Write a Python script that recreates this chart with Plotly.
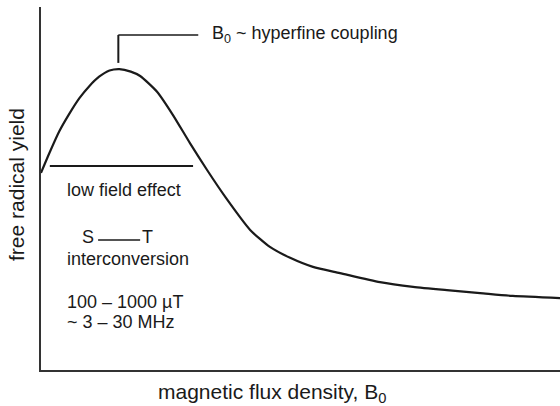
import plotly.graph_objects as go

# curva de rendimiento (unidades arbitrarias, 0-100)
campo = [0, 1.6, 3.5, 5.5, 7.4, 9.3, 11.2, 13.2, 15.1, 17.3, 19.1, 22.4, 25.4,
         28.7, 32.0, 35.5, 40.3, 44.1, 48.0, 52.4, 57.6, 65.3, 71.7, 78.2,
         84.6, 90.9, 100]
rendimiento = [54.3, 59.7, 65.7, 70.7, 74.9, 78.2, 80.8, 82.5, 82.9, 82.2, 81.0,
               76.6, 70.3, 62.5, 55.1, 47.7, 38.6, 33.9, 30.9, 28.4, 26.7, 24.2,
               22.9, 22.0, 21.2, 20.4, 19.8]

pico_x = 14.9
etiqueta_pico = 'B<sub>0</sub> ~ hyperfine coupling'
etiquetas_izq = ['low field effect', 'interconversion', '100 – 1000 µT', '~ 3 – 30 MHz']
etiquetas_izq_y = [49.6, 30.6, 18.7, 13.2]

FUENTE = 'Liberation Sans, Arial, sans-serif'
NEGRO = '#1a1a1a'

fig = go.Figure()
fig.add_trace(go.Scatter(
    x=campo, y=rendimiento, mode='lines',
    line=dict(color=NEGRO, width=2.2, shape='spline', smoothing=0.6),
    hoverinfo='skip'
))

# corchete del pico
fig.add_shape(type='line', x0=pico_x, x1=pico_x, y0=84.6, y1=92.3,
              line=dict(color=NEGRO, width=2))
fig.add_shape(type='line', x0=pico_x, x1=30.3, y0=92.3, y1=92.3,
              line=dict(color=NEGRO, width=1.5))
# linea del efecto de campo bajo
fig.add_shape(type='line', x0=1.7, x1=29.3, y0=56.2, y1=56.2,
              line=dict(color=NEGRO, width=2))
# S --- T
fig.add_shape(type='line', x0=11.0, x1=19.1, y0=35.8, y1=35.8,
              line=dict(color=NEGRO, width=1.5))

fig.add_annotation(x=32.6, y=92.3, text=etiqueta_pico, xanchor='left',
                   showarrow=False, font=dict(size=18))
for txt, yy in zip(etiquetas_izq, etiquetas_izq_y):
    fig.add_annotation(x=4.6, y=yy, text=txt, xanchor='left',
                       showarrow=False, font=dict(size=18))
fig.add_annotation(x=10.6, y=36.6, text='S', xanchor='right',
                   showarrow=False, font=dict(size=18))
fig.add_annotation(x=19.1, y=36.6, text='T', xanchor='left',
                   showarrow=False, font=dict(size=18))

# titulos de ejes (fuera del area de trazado -> coordenadas de papel)
fig.add_annotation(xref='paper', yref='paper', x=0.445, y=-0.063,
                   xanchor='center', yanchor='middle',
                   text='magnetic flux density, B<sub>0</sub>',
                   showarrow=False, font=dict(size=21))
fig.add_annotation(xref='paper', yref='paper', x=-0.046, y=0.51,
                   xanchor='center', yanchor='middle',
                   text='free radical yield', textangle=-90,
                   showarrow=False, font=dict(size=21))

eje = dict(range=[0, 100], showline=True, linecolor='#333333', linewidth=2,
           showgrid=False, zeroline=False, showticklabels=False, ticks='',
           fixedrange=True)
fig.update_layout(
    width=560, height=406,
    margin=dict(l=41, r=0, t=7, b=36),
    paper_bgcolor='white', plot_bgcolor='white',
    showlegend=False,
    font=dict(family=FUENTE, color=NEGRO),
    xaxis=eje, yaxis=eje,
)

fig.write_html("out.html", config={'displayModeBar': False},
               post_script="document.body.style.margin='0';")
